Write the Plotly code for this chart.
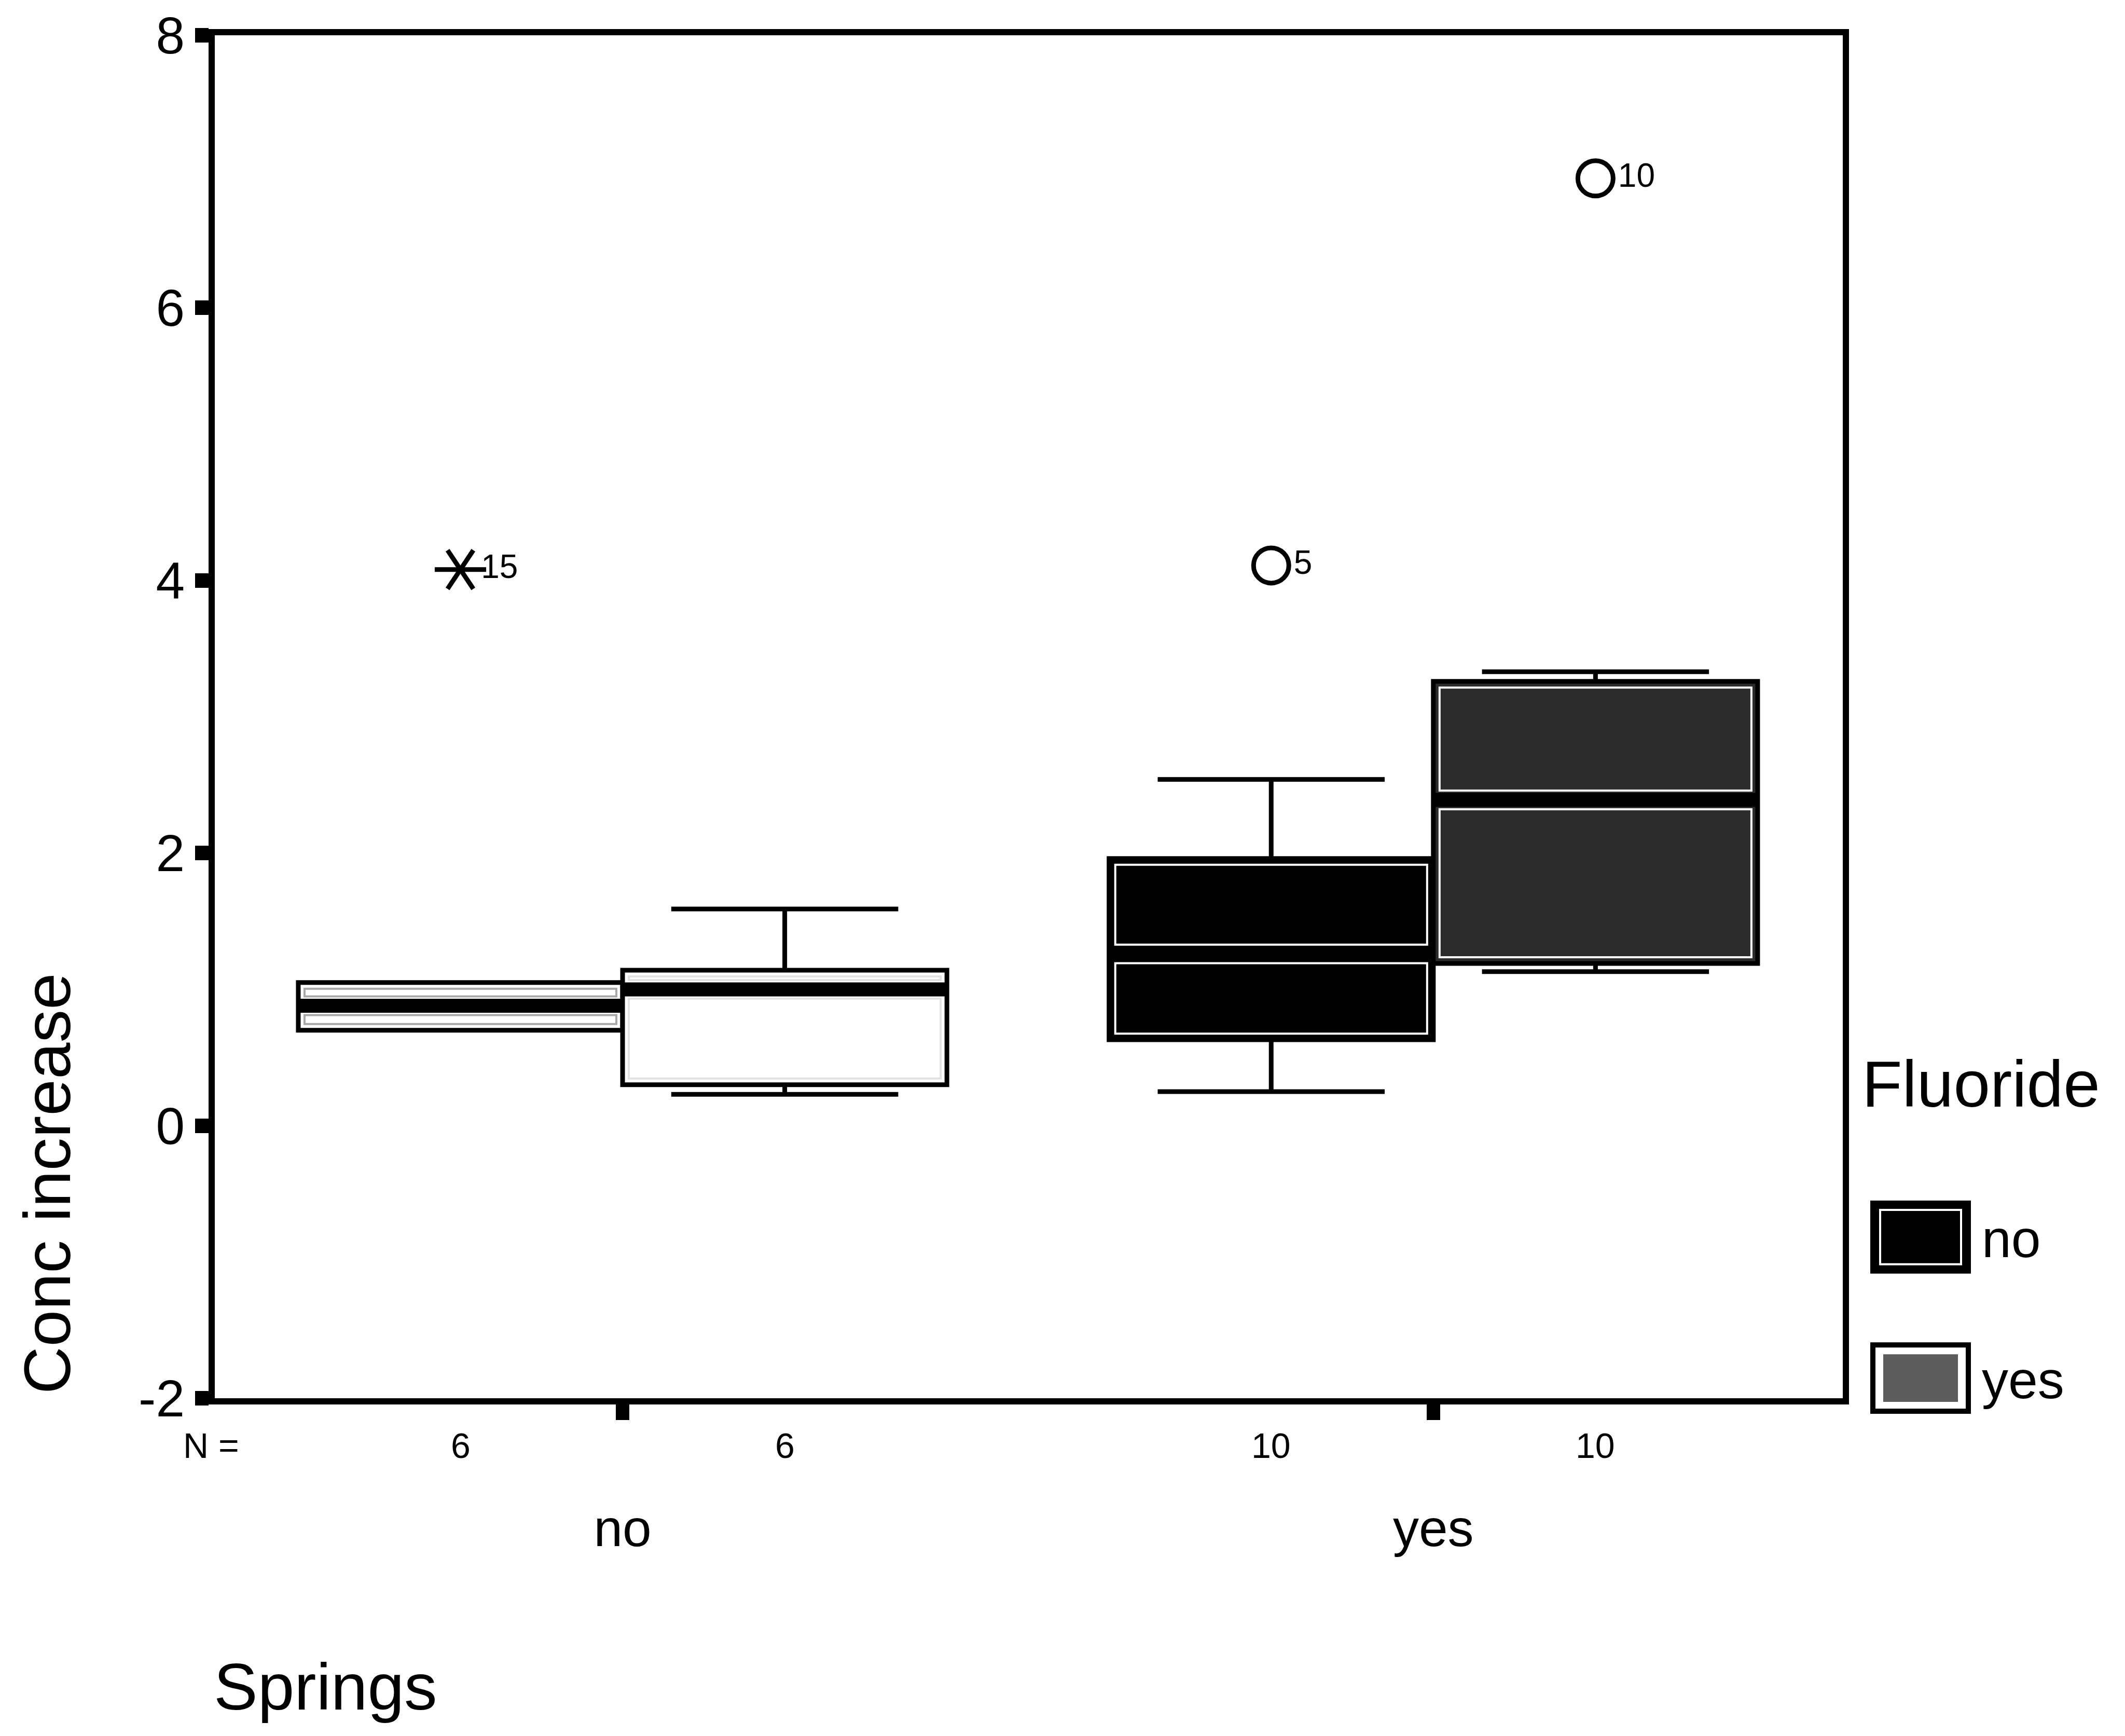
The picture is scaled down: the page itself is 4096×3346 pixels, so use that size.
import plotly.graph_objects as go

# Springs groups on the x axis, Fluoride splits each group into two boxes
springs_groups = ["no", "yes"]
fluoride_levels = ["no", "yes"]

# One entry per box, ordered (Springs, Fluoride)
box_springs = ["no", "no", "yes", "yes"]
box_fluoride = ["no", "yes", "no", "yes"]
q1 = [0.70, 0.30, 0.63, 1.19]
median = [0.88, 1.00, 1.26, 2.39]
q3 = [1.05, 1.14, 1.96, 3.26]
lower_whisker = [0.70, 0.23, 0.25, 1.13]
upper_whisker = [1.05, 1.59, 2.54, 3.33]
n_cases = [6, 6, 10, 10]

# Flagged cases (asterisk = extreme, circle = outlier)
outlier_springs = ["no", "yes", "yes"]
outlier_fluoride = ["no", "no", "yes"]
outlier_values = [4.08, 4.11, 6.95]
outlier_ids = ["15", "5", "10"]
outlier_extreme = [True, False, False]

y_ticks = [-2, 0, 2, 4, 6, 8]

# ---- layout constants (pixels) ----
W, H = 4096, 3346
PLOT_L, PLOT_R, PLOT_T, PLOT_B = 414, 3552, 61, 2695
X_RANGE = [0.497, 2.505]
Y_RANGE = [-2, 8]
BOX_W = 0.4
FONT = "Liberation Sans, Arial, sans-serif"

box_fill = ["white", "white", "black", "#2c2c2c"]
inner_line = ["#a8a8a8", "#e2e2e2", "white", "white"]

UX = (X_RANGE[1] - X_RANGE[0]) / (PLOT_R - PLOT_L)   # data units per pixel
UY = (Y_RANGE[1] - Y_RANGE[0]) / (PLOT_B - PLOT_T)


def xpos(springs, fluoride):
    side = -1 if fluoride_levels.index(fluoride) == 0 else 1
    return springs_groups.index(springs) + 1 + side * BOX_W / 2


def paper_x(px):
    return (px - PLOT_L) / (PLOT_R - PLOT_L)


def paper_y(py):
    return (PLOT_B - py) / (PLOT_B - PLOT_T)


fig = go.Figure()

box_x = [xpos(s, f) for s, f in zip(box_springs, box_fluoride)]

for i in range(len(box_x)):
    fig.add_trace(go.Box(
        x=[box_x[i]], q1=[q1[i]], median=[median[i]], q3=[q3[i]],
        lowerfence=[lower_whisker[i]], upperfence=[upper_whisker[i]],
        width=BOX_W, whiskerwidth=0.7, boxpoints=False,
        fillcolor=box_fill[i], line=dict(color="black", width=9),
        showlegend=False, hoverinfo="skip",
    ))

shapes = []
dx, dy = 12 * UX, 12 * UY
gap = 18 * UY
for i in range(len(box_x)):
    x0, x1 = box_x[i] - BOX_W / 2, box_x[i] + BOX_W / 2
    # inner double-border of each half of the box
    for lo, hi in ((median[i] + gap, q3[i] - dy), (q1[i] + dy, median[i] - gap)):
        if hi > lo:
            shapes.append(dict(type="rect", xref="x", yref="y",
                               x0=x0 + dx, x1=x1 - dx, y0=lo, y1=hi,
                               line=dict(color=inner_line[i], width=4),
                               fillcolor="rgba(0,0,0,0)", layer="above"))
    # heavy median band
    shapes.append(dict(type="line", xref="x", yref="y",
                       x0=x0 + 4 * UX, x1=x1 - 4 * UX, y0=median[i], y1=median[i],
                       line=dict(color="black", width=27), layer="above"))

# outliers
ox = [xpos(s, f) for s, f in zip(outlier_springs, outlier_fluoride)]
ext = [k for k, e in enumerate(outlier_extreme) if e]
reg = [k for k, e in enumerate(outlier_extreme) if not e]

# six-armed asterisk = two three-armed symbols on top of each other
for sym, with_label in (("y-left-open", False), ("y-right-open", True)):
    fig.add_trace(go.Scatter(
        x=[ox[k] for k in ext], y=[outlier_values[k] for k in ext],
        mode="markers+text" if with_label else "markers",
        text=[outlier_ids[k] for k in ext] if with_label else None,
        textposition="middle right",
        textfont=dict(family=FONT, size=64, color="black"),
        marker=dict(symbol=sym, size=62, color="black",
                    line=dict(color="black", width=9)),
        showlegend=False, hoverinfo="skip"))
fig.add_trace(go.Scatter(
    x=[ox[k] for k in reg], y=[outlier_values[k] for k in reg],
    mode="markers+text", text=[outlier_ids[k] for k in reg],
    textposition="middle right",
    textfont=dict(family=FONT, size=64, color="black"),
    marker=dict(symbol="circle-open", size=68, color="black",
                line=dict(color="black", width=9)),
    showlegend=False, hoverinfo="skip"))

annotations = []
# N row
annotations.append(dict(text="N =", x=paper_x(407), xref="paper", y=paper_y(2786), yref="paper",
                        showarrow=False, xanchor="center", yanchor="middle",
                        font=dict(family=FONT, size=68, color="black")))
for i in range(len(box_x)):
    annotations.append(dict(text=str(n_cases[i]), x=box_x[i], xref="x", y=paper_y(2786), yref="paper",
                            showarrow=False, xanchor="center", yanchor="middle",
                            font=dict(family=FONT, size=68, color="black")))

# axis titles
annotations.append(dict(text="Conc increase", x=paper_x(91), xref="paper", y=paper_y(2280), yref="paper",
                        textangle=-90, showarrow=False, xanchor="center", yanchor="middle",
                        font=dict(family=FONT, size=127, color="black")))
annotations.append(dict(text="Springs", x=paper_x(410), xref="paper", y=paper_y(3252), yref="paper",
                        showarrow=False, xanchor="left", yanchor="middle",
                        font=dict(family=FONT, size=127, color="black")))

# legend
annotations.append(dict(text="Fluoride", x=paper_x(3587), xref="paper", y=paper_y(2087), yref="paper",
                        showarrow=False, xanchor="left", yanchor="middle",
                        font=dict(family=FONT, size=127, color="black")))
legend_rows = [(2318, 2449), (2592, 2720)]
legend_swatch = ["black", "#5c5c5c"]
for (top, bot), lvl, col in zip(legend_rows, fluoride_levels, legend_swatch):
    shapes.append(dict(type="rect", xref="paper", yref="paper",
                       x0=paper_x(3610), x1=paper_x(3794), y0=paper_y(bot), y1=paper_y(top),
                       line=dict(color="black", width=10),
                       fillcolor="black" if col == "black" else "white"))
    if col == "black":
        shapes.append(dict(type="rect", xref="paper", yref="paper",
                           x0=paper_x(3624), x1=paper_x(3780), y0=paper_y(bot - 13), y1=paper_y(top + 13),
                           line=dict(color="white", width=4), fillcolor="black"))
    else:
        shapes.append(dict(type="rect", xref="paper", yref="paper",
                           x0=paper_x(3630), x1=paper_x(3774), y0=paper_y(bot - 18), y1=paper_y(top + 18),
                           line=dict(color=col, width=0), fillcolor=col))
    annotations.append(dict(text=lvl, x=paper_x(3818), xref="paper", y=paper_y((top + bot) / 2 + 4),
                            yref="paper", showarrow=False, xanchor="left", yanchor="middle",
                            font=dict(family=FONT, size=102, color="black")))

fig.update_layout(
    width=W, height=H, autosize=False,
    margin=dict(l=PLOT_L, r=W - PLOT_R, t=PLOT_T, b=H - PLOT_B, pad=0),
    paper_bgcolor="white", plot_bgcolor="white",
    font=dict(family=FONT, color="black"),
    showlegend=False,
    shapes=shapes, annotations=annotations,
    xaxis=dict(range=X_RANGE, tickvals=[1, 2], ticktext=springs_groups,
               ticks="outside", ticklen=30, tickwidth=26, tickcolor="black",
               ticklabelstandoff=123, tickfont=dict(family=FONT, size=100, color="black"),
               showline=True, mirror=True, linecolor="black", linewidth=12,
               showgrid=False, zeroline=False),
    yaxis=dict(range=Y_RANGE, tickvals=y_ticks, ticktext=[str(v) for v in y_ticks],
               ticks="outside", ticklen=26, tickwidth=28, tickcolor="black",
               ticklabelstandoff=0, tickfont=dict(family=FONT, size=100, color="black"),
               showline=True, mirror=True, linecolor="black", linewidth=12,
               showgrid=False, zeroline=False),
)

fig.write_html("out.html")
